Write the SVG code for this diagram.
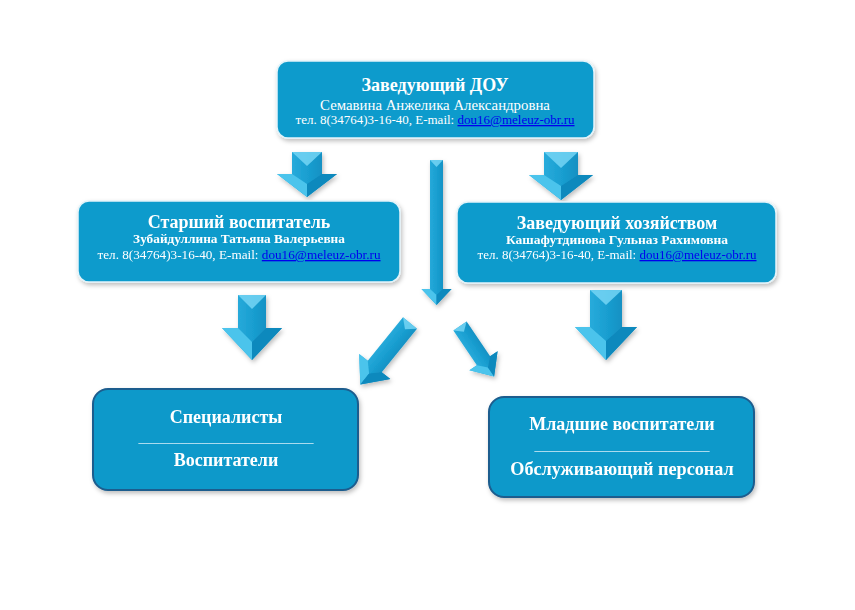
<svg xmlns="http://www.w3.org/2000/svg" width="855" height="610" viewBox="0 0 855 610">
<defs>
<filter id="sh" x="-10%" y="-10%" width="130%" height="140%">
<feDropShadow dx="1.5" dy="2.5" stdDeviation="2" flood-color="#000" flood-opacity="0.25"/>
</filter>
<linearGradient id="shaft" x1="0" y1="0" x2="1" y2="0">
<stop offset="0" stop-color="#35b6e4"/>
<stop offset="0.5" stop-color="#1a9fd1"/>
<stop offset="1" stop-color="#0d83b6"/>
</linearGradient>
<style>
.box{fill:#0f9bcc;stroke:#e3f4fa;stroke-width:1.5}
.bbox{fill:#0e99ca;stroke:#1d5d8e;stroke-width:2}
.body{fill:url(#shaft)}
.bev{fill:#74d5f4;opacity:0.85}
.hl{fill:#4cc4ec}
.hr{fill:#1089bd}
.t{font-family:"Liberation Serif","Times New Roman",serif;fill:#ffffff;text-anchor:middle}
.b{font-weight:bold}
.lnk{fill:#0000ee;text-decoration:underline}
.u{fill:#d6eef8}
</style>
</defs>
<rect width="855" height="610" fill="#ffffff"/>

<g id="connectors" filter="url(#sh)">
<g id="a1">
<polygon class="body" points="292,152 322,152 322,174 337,174 307,197 277,174 292,174"/>
<polygon class="bev" points="292,152 322,152 307,166"/>
<polygon class="hl" points="277,174 292,174 307,184 307,197"/>
<polygon class="hr" points="337,174 322,174 307,184 307,197"/>
</g>
<g id="a2">
<polygon class="body" points="544,152 578,152 578,175 593,175 561,200 529,175 544,175"/>
<polygon class="bev" points="544,152 578,152 561,168"/>
<polygon class="hl" points="529,175 544,175 561,186 561,200"/>
<polygon class="hr" points="593,175 578,175 561,186 561,200"/>
</g>
<g id="a3">
<polygon class="body" points="430,160 443,160 443,289 451.5,289 436.5,305 421.5,289 430,289"/>
<polygon class="bev" points="430,160 443,160 436.5,167"/>
<polygon class="hl" points="421.5,289 430,289 436.5,295 436.5,305"/>
<polygon class="hr" points="451.5,289 443,289 436.5,295 436.5,305"/>
</g>
<g id="a4">
<polygon class="body" points="238,295 266,295 266,328 282,328 252,360 222,328 238,328"/>
<polygon class="bev" points="238,295 266,295 252,309"/>
<polygon class="hl" points="222,328 238,328 252,342 252,360"/>
<polygon class="hr" points="282,328 266,328 252,342 252,360"/>
</g>
<g id="a5">
<polygon class="body" points="590,290 622,290 622,327 637,327 606,360 575,327 590,327"/>
<polygon class="bev" points="590,290 622,290 606,305"/>
<polygon class="hl" points="575,327 590,327 606,341 606,360"/>
<polygon class="hr" points="637,327 622,327 606,341 606,360"/>
</g>
<g id="a6" transform="translate(410,323) rotate(39)">
<polygon class="body" points="-9,0 9,0 9,56 20,56 0,79 -20,56 -9,56"/>
<polygon class="bev" points="-9,0 9,0 0,8"/>
<polygon class="hl" points="-20,56 -9,56 0,65 0,79"/>
<polygon class="hr" points="20,56 9,56 0,65 0,79"/>
</g>
<g id="a7" transform="translate(460,326) rotate(-34)">
<polygon class="body" points="-8,0 8,0 8,42 17,42 0,61 -17,42 -8,42"/>
<polygon class="bev" points="-8,0 8,0 0,7"/>
<polygon class="hl" points="-17,42 -8,42 0,50 0,61"/>
<polygon class="hr" points="17,42 8,42 0,50 0,61"/>
</g>
</g>

<g id="head">
<rect class="box" x="277" y="61" width="317" height="77" rx="11" filter="url(#sh)"/>
<text class="t b" x="435" y="91" font-size="18">Заведующий ДОУ</text>
<text class="t" x="435" y="110" font-size="14.8">Семавина Анжелика Александровна</text>
<text class="t" x="435" y="124" font-size="13">тел. 8(34764)3-16-40, E-mail: <tspan class="lnk">dou16@meleuz-obr.ru</tspan></text>
</g>

<g id="senior">
<rect class="box" x="78" y="201" width="322" height="81" rx="11" filter="url(#sh)"/>
<text class="t b" x="239" y="228" font-size="18">Старший воспитатель</text>
<text class="t b" x="239" y="243" font-size="13.3">Зубайдуллина Татьяна Валерьевна</text>
<text class="t" x="239" y="259" font-size="13.2">тел. 8(34764)3-16-40, E-mail: <tspan class="lnk">dou16@meleuz-obr.ru</tspan></text>
</g>

<g id="household">
<rect class="box" x="457" y="202" width="319" height="81" rx="11" filter="url(#sh)"/>
<text class="t b" x="617" y="229" font-size="18">Заведующий хозяйством</text>
<text class="t b" x="617" y="244" font-size="13.5">Кашафутдинова Гульназ Рахимовна</text>
<text class="t" x="617" y="259" font-size="13">тел. 8(34764)3-16-40, E-mail: <tspan class="lnk">dou16@meleuz-obr.ru</tspan></text>
</g>

<g id="specialists">
<rect class="bbox" x="93" y="389" width="265" height="101" rx="15" filter="url(#sh)"/>
<text class="t b" x="226" y="423" font-size="18">Специалисты</text>
<text class="t u" x="226" y="442" font-size="14">_________________________</text>
<text class="t b" x="226" y="466" font-size="18">Воспитатели</text>
</g>

<g id="junior">
<rect class="bbox" x="489" y="397" width="265" height="100" rx="15" filter="url(#sh)"/>
<text class="t b" x="622" y="430" font-size="18">Младшие воспитатели</text>
<text class="t u" x="622" y="450" font-size="14">_________________________</text>
<text class="t b" x="622" y="475" font-size="18.2">Обслуживающий персонал</text>
</g>
</svg>
